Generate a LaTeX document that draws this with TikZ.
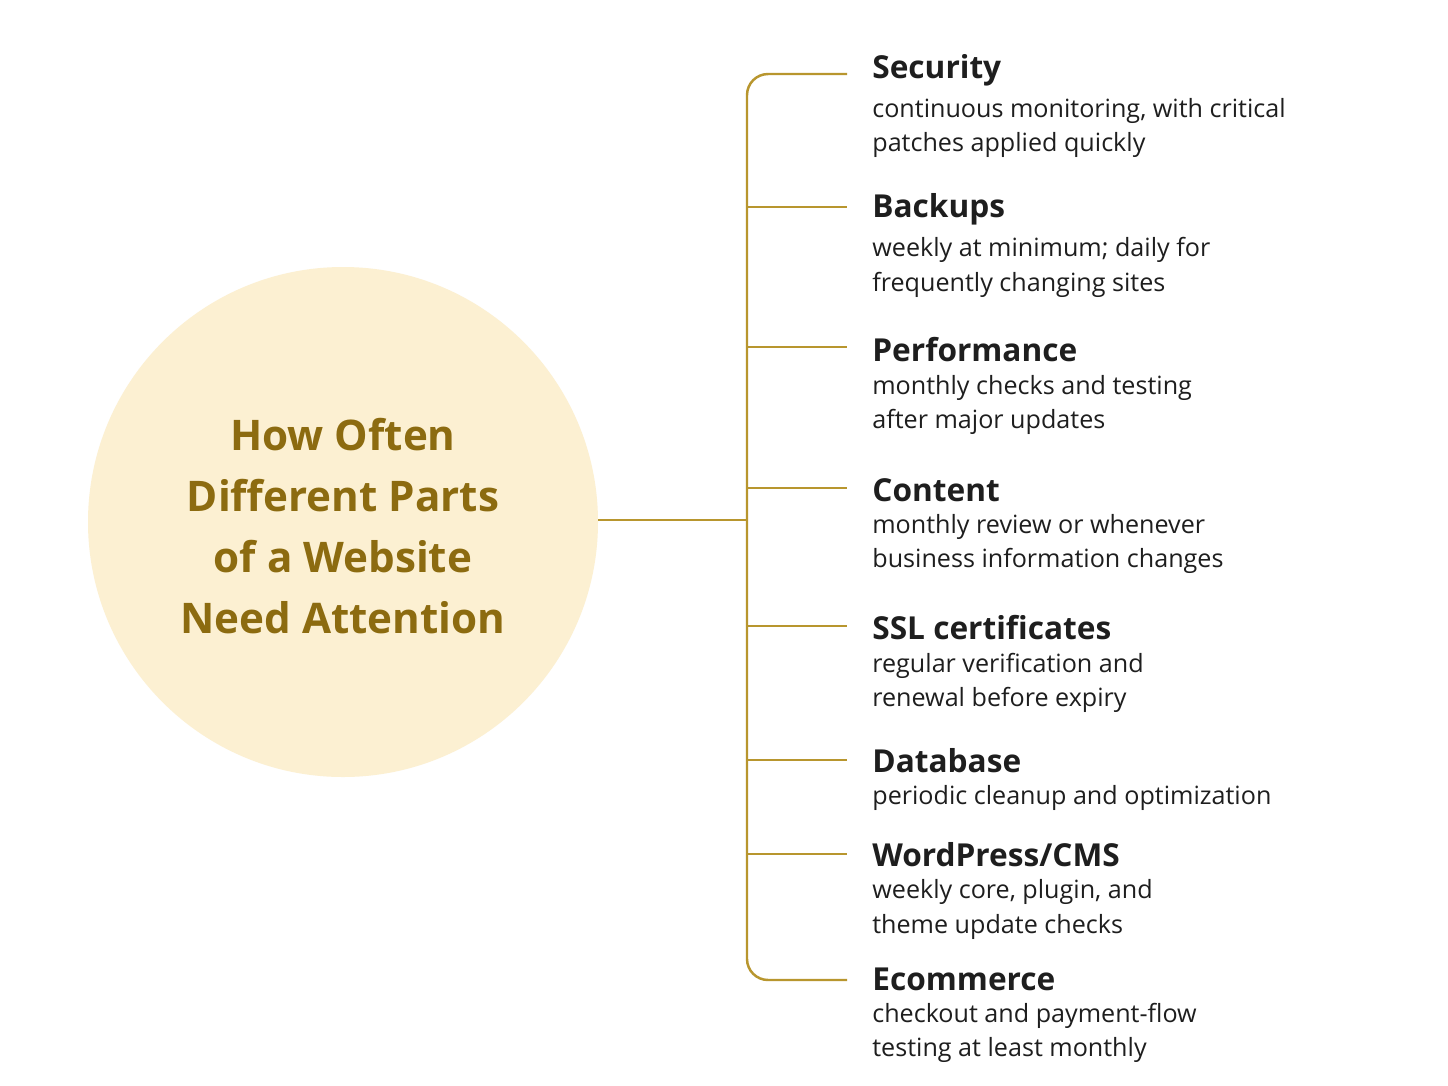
\documentclass[tikz,border=0pt]{standalone}
\usepackage{fontspec}
\setmainfont{Open Sans}
\usetikzlibrary{positioning}
\definecolor{circfill}{HTML}{FCF0D2}
\definecolor{titlegold}{HTML}{8C6B10}
\definecolor{linegold}{HTML}{B8962E}
\definecolor{textdark}{HTML}{1E1E1E}
\tikzset{
  branch/.style={draw=linegold, line width=1.4pt},
  head/.style={anchor=west, inner sep=0pt, font=\fontsize{18}{22}\selectfont\bfseries, text=textdark},
  desc/.style={anchor=north west, inner sep=0pt, align=left, font=\fontsize{14.3}{19.5}\selectfont, text=textdark}
}
\begin{document}
\begin{tikzpicture}[x=0.02cm,y=-0.02cm]
    \useasboundingbox[fill=white] (0,0) rectangle (1448,1086);

    % Cerchio centrale
    \node[circle, fill=circfill, minimum size=510*0.02cm, inner sep=0pt] (hub) at (343,522) {};
    \node[align=center, text=titlegold, font=\fontsize{24}{34.7}\selectfont\bfseries] (title) at (343,526)
        {How Often\\Different Parts\\of a Website\\Need Attention};

    % Tronco e spina
    \coordinate (spine) at (747,520);
    \draw[branch] (hub.east |- spine) -- (spine);
    \draw[branch, rounded corners=12pt] (847,74) -- (747,74) -- (747,980) -- (847,980);

    % Voci
    \foreach \name/\y/\ttl/\txt in {
        sec/70/Security/{continuous monitoring, with critical\\patches applied quickly},
        bak/209/Backups/{weekly at minimum; daily for\\frequently changing sites},
        perf/350/Performance/{monthly checks and testing\\after major updates},
        cont/490/Content/{monthly review or whenever\\business information changes},
        ssl/628/SSL certificates/{regular verification and\\renewal before expiry},
        db/761/Database/{periodic cleanup and optimization},
        wp/855/{WordPress/CMS}/{weekly core, plugin, and\\theme update checks},
        ecom/979/Ecommerce/{checkout and payment-flow\\testing at least monthly}}{
        \node[head] (\name) at (872,\y) {\ttl};
        \node[desc, below=12*0.02cm of \name.south west, anchor=north west] (\name-d) {\txt};
    }

    % Rami
    \foreach \name/\y in {bak/207, perf/347, cont/488, ssl/626, db/760, wp/854}{
        \coordinate (\name-j) at (747,\y);
        \draw[branch] (\name-j) -- ([xshift=-25*0.02cm]\name.west |- \name-j);
    }
\end{tikzpicture}
\end{document}
